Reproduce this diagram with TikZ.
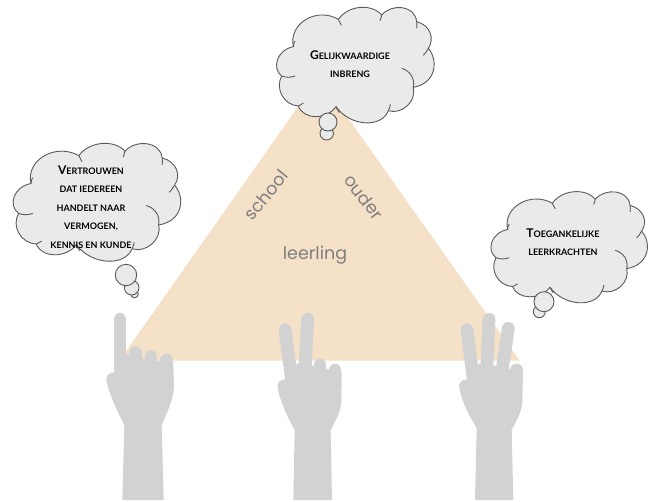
\documentclass[tikz,border=0pt]{standalone}
\usepackage{fontspec}
\setmainfont{Lato}
\newfontfamily\labelfont{Poppins}
\definecolor{sand}{HTML}{F5E0C8}
\definecolor{handgray}{HTML}{D2D2D2}
\definecolor{cloudgray}{HTML}{EAEAEA}
\definecolor{linegray}{HTML}{5A5A5A}
\definecolor{labelgray}{HTML}{7F7F7F}
\newcommand{\cloudshape}{%
  \path[cloud line,fill=cloudgray] (100,140) .. controls (85,70) and (170,20) .. (235,58)
    .. controls (265,15) and (335,10) .. (365,45)
    .. controls (395,10) and (465,15) .. (470,65)
    .. controls (510,75) and (525,115) .. (505,145)
    .. controls (535,180) and (530,250) .. (460,262)
    .. controls (470,305) and (425,345) .. (385,332)
    .. controls (365,385) and (270,380) .. (228,320)
    .. controls (200,360) and (130,360) .. (115,318)
    .. controls (70,315) and (45,265) .. (65,228)
    .. controls (35,205) and (50,150) .. (100,140) -- cycle;
  \draw[cloud line] (65,228) .. controls (78,233) and (92,233) .. (105,228);
  \draw[cloud line] (100,140) .. controls (100,133) and (102,128) .. (105,123);
  \draw[cloud line] (235,58) .. controls (238,64) and (241,70) .. (244,76);
  \draw[cloud line] (365,45) .. controls (364,50) and (363,55) .. (360,62);
  \draw[cloud line] (470,65) .. controls (471,72) and (471,78) .. (470,85);
  \draw[cloud line] (505,145) .. controls (501,153) and (496,160) .. (490,166);
  \draw[cloud line] (425,205) .. controls (450,212) and (465,235) .. (460,262);
  \draw[cloud line] (385,332) .. controls (388,326) and (390,320) .. (391,313);
  \draw[cloud line] (228,320) .. controls (231,326) and (233,332) .. (238,338);
  \draw[cloud line] (115,318) .. controls (120,316) and (125,313) .. (130,309);
}
\newcommand{\capword}[2]{{\fontsize{12}{12}\selectfont #1}#2}
\begin{document}
\begin{tikzpicture}[x=1pt,y=-1pt,
  cloud line/.style={draw=linegray,line width=0.9pt},
  bubble/.style={draw=linegray,line width=0.9pt,fill=cloudgray},
  finger/.style={draw=handgray,line width=12.8pt,line cap=round},
  palm/.style={fill=handgray},
  cloud text/.style={align=center,inner sep=0pt,text=black,font=\bfseries\fontsize{9}{18.4}\selectfont},
  corner label/.style={text=labelgray,inner sep=0pt,font=\labelfont\fontsize{17.5}{17.5}\selectfont}]

  \useasboundingbox (0,0) rectangle (656,501);
  \fill[sand] (319,77) -- (519.5,360.5) -- (119.5,360.5) -- cycle;

  \node[corner label,rotate=51] (school) at (266,195) {school};
  \node[corner label,rotate=-52] (ouder) at (364,197) {ouder};
  \node[corner label] (leerling) at (315,255) {leerling};

  % one finger
  \begin{scope}[shift={(90,300)},scale=1/3]
    \fill[palm] (97,600) -- (103,375) .. controls (85,340) and (60,290) .. (50,245)
      .. controls (45,225) and (60,218) .. (72,217) -- (110,163) -- (160,177) -- (207,182) -- (250,190)
      -- (252,260) .. controls (250,300) and (230,340) .. (215,375) -- (221,600) -- cycle;
    \draw[finger] (90,58) -- (90,220);
    \draw[finger] (137,158) -- (137,210);
    \draw[finger] (183,170) -- (183,210);
    \draw[finger] (230,180) -- (230,210);
  \end{scope}
  % two fingers
  \begin{scope}[shift={(90,300)},scale=1/3]
    \fill[palm] (610,600) -- (614,390) .. controls (595,355) and (572,310) .. (563,265)
      .. controls (558,248) and (572,238) .. (590,237) -- (622,190) -- (667,197) -- (712,208) -- (755,215)
      -- (754,310) .. controls (750,340) and (735,365) .. (722,390) -- (726,600) -- cycle;
    \draw[finger] (585,90) -- (605,240);
    \draw[finger] (653,58) -- (645,210);
    \draw[finger] (690,195) -- (690,230);
    \draw[finger] (735,210) -- (735,240);
  \end{scope}
  % three fingers
  \begin{scope}[shift={(440,300)},scale=1/3]
    \fill[palm] (105,600) -- (110,385) .. controls (90,350) and (67,310) .. (58,265)
      .. controls (53,248) and (67,238) .. (85,237) -- (118,190) -- (163,197) -- (208,207) -- (249,215)
      -- (247,310) .. controls (243,340) and (228,365) .. (215,390) -- (220,600) -- cycle;
    \draw[finger] (81,90) -- (100,240);
    \draw[finger] (147,58) -- (140,220);
    \draw[finger] (205,85) -- (185,220);
    \draw[finger] (230,210) -- (230,240);
  \end{scope}

  \begin{scope}[shift={(260,0)},scale=1/3]
    \cloudshape
  \end{scope}
  \draw[bubble] (326.7,133.3) circle (6.7);
  \draw[bubble] (328,122) circle (9);
  \node[cloud text] (samen) at (350,64) {\capword{G}ELIJKWAARDIGE\\INBRENG};

  \begin{scope}[shift={(-4.5,135.9)},xscale=0.3546,yscale=0.34]
    \cloudshape
  \end{scope}
  \draw[bubble] (134.5,294) circle (3.8);
  \draw[bubble] (131.7,287.7) circle (7.3);
  \draw[bubble] (126,275) circle (10.7);
  \node[cloud text] (vertrouwen) at (91,207) {\capword{V}ERTROUWEN\\DAT IEDEREEN\\HANDELT NAAR\\VERMOGEN,\\KENNIS EN KUNDE};

  \begin{scope}[shift={(474.5,184.6)},xscale=0.331,yscale=0.3207]
    \cloudshape
  \end{scope}
  \draw[bubble] (539.3,311.7) circle (6);
  \draw[bubble] (544,301.7) circle (10);
  \node[cloud text] (toegang) at (563,242) {\capword{T}OEGANKELIJKE\\LEERKRACHTEN};
\end{tikzpicture}
\end{document}
